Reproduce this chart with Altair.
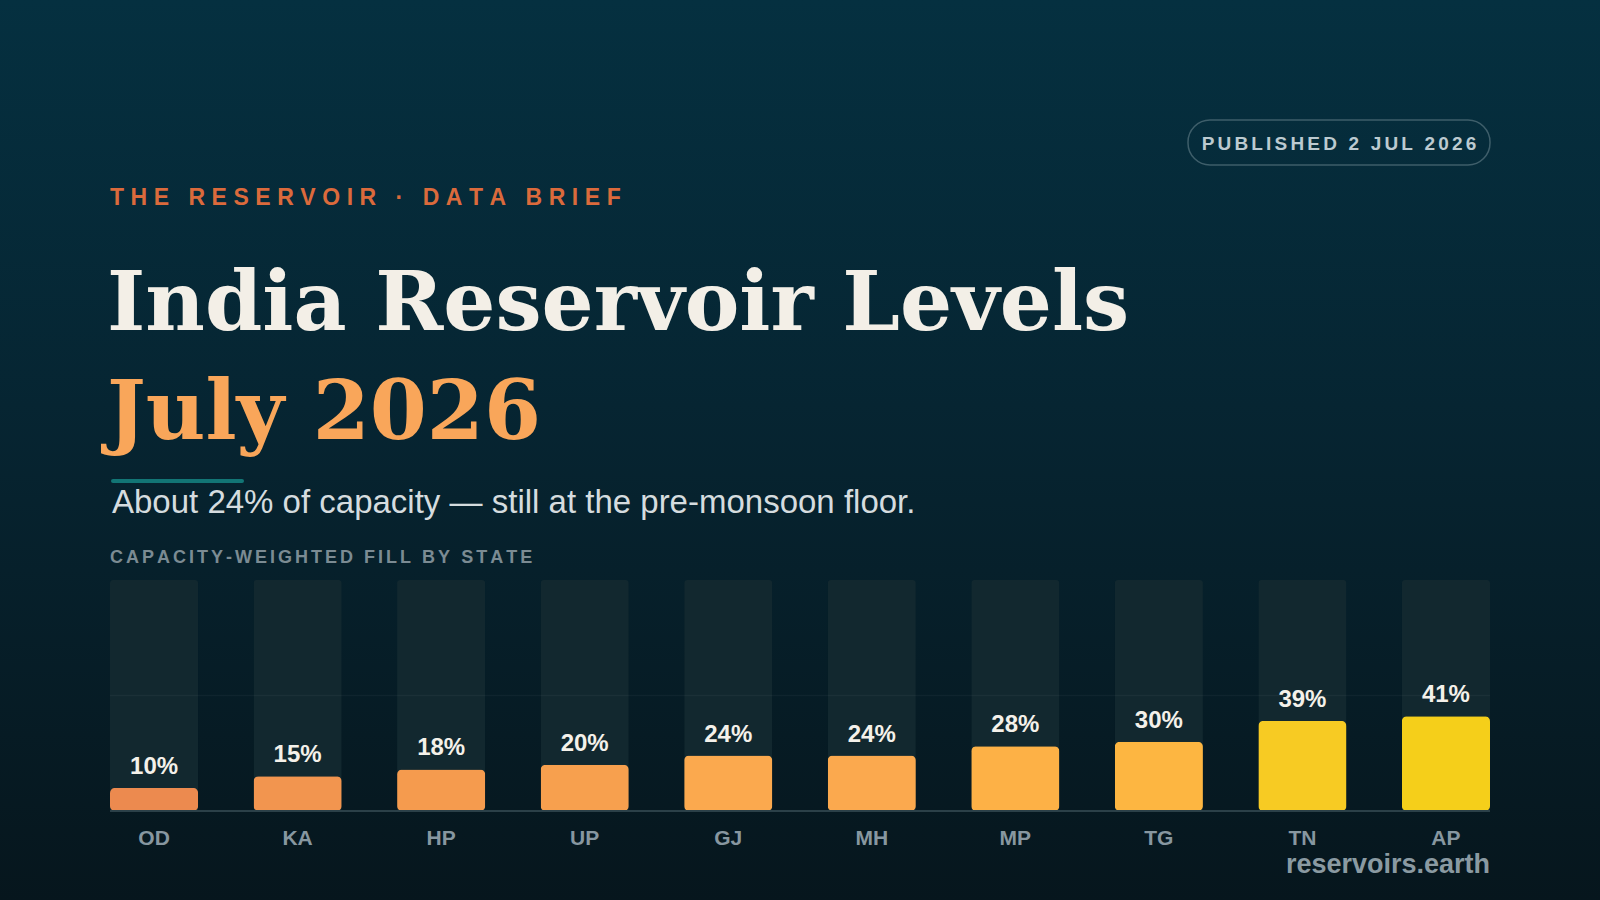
import altair as alt
import pandas as pd

# State reservoir fill, capacity-weighted (% of live storage)
states = ["OD", "KA", "HP", "UP", "GJ", "MH", "MP", "TG", "TN", "AP"]
fill_pct = [10, 15, 18, 20, 24, 24, 28, 30, 39, 41]

W, H = 1600, 900
LEFT, RIGHT = 110, 1490
TOP, BASE = 580, 811

df = pd.DataFrame({"state": states, "pct": fill_pct})

x_enc = alt.X(
    "state:N",
    sort=states,
    axis=None,
    scale=alt.Scale(domain=states, range=[LEFT, RIGHT], paddingInner=0.386, paddingOuter=0),
)
y_scale = alt.Scale(domain=[0, 100], range=[BASE, TOP])

one = alt.Data(values=[{}])


def label(text, x, y, size, color, weight="normal", font="Liberation Sans", align="left", baseline="alphabetic"):
    return alt.Chart(one).mark_text(
        text=text, font=font, fontSize=size, fontWeight=weight, color=color,
        align=align, baseline=baseline,
    ).encode(x=alt.value(x), y=alt.value(y))


def track(s, sep):
    # widen letter spacing with narrow unicode spaces between glyphs
    return sep.join(list(s))


THIN, HAIR = "\u2009", "\u200a"

# page background
bg = alt.Chart(one).mark_rect(
    color=alt.Gradient(
        gradient="linear",
        stops=[
            alt.GradientStop(color="#053040", offset=0),
            alt.GradientStop(color="#062532", offset=0.45),
            alt.GradientStop(color="#06161d", offset=1),
        ],
        x1=0, x2=0, y1=0, y2=1,
    )
).encode(x=alt.value(0), x2=alt.value(W), y=alt.value(0), y2=alt.value(H))

# header
kicker = label(track("THE RESERVOIR · DATA BRIEF", THIN + HAIR), 110, 205, 23, "#db6a3c", weight="bold")
badge_box = alt.Chart(one).mark_rect(
    fillOpacity=0, stroke="#3e5e6a", strokeWidth=1.5, cornerRadius=22
).encode(x=alt.value(1188), x2=alt.value(1490), y=alt.value(120), y2=alt.value(165))
badge_txt = label(track("PUBLISHED 2 JUL 2026", HAIR + HAIR), 1339, 150, 19, "#bccad0", weight="bold", align="center")
title1 = label("India Reservoir Levels", 107, 330, 82, "#f3efe7", weight="bold", font="DejaVu Serif")
title2 = label("July 2026", 107, 439, 82, "#f9a65a", weight="bold", font="DejaVu Serif")
accent = alt.Chart(one).mark_rule(color="#127575", strokeWidth=4, strokeCap="round").encode(
    x=alt.value(113), x2=alt.value(242), y=alt.value(481)
)
subtitle = label("About 24% of capacity \u2014 still at the pre-monsoon floor.", 112, 513, 33, "#d5dcdf")
section = label(track("CAPACITY-WEIGHTED FILL BY STATE", HAIR + HAIR), 110, 563, 18, "#7b8b93", weight="bold")

# chart body
base = alt.Chart(df)
columns = base.transform_calculate(full="100").mark_bar(
    color="#12282f", cornerRadiusTopLeft=3, cornerRadiusTopRight=3
).encode(x=x_enc, y=alt.Y("full:Q", scale=y_scale, axis=None))

grid = alt.Chart(one).mark_rule(color="#ffffff", opacity=0.04, strokeWidth=1.5).encode(
    x=alt.value(LEFT), x2=alt.value(RIGHT), y=alt.value((BASE + TOP) / 2)
)

bars = base.mark_bar(cornerRadius=5).encode(
    x=x_enc,
    y=alt.Y("pct:Q", scale=y_scale, axis=None),
    color=alt.Color(
        "pct:Q",
        scale=alt.Scale(domain=[10, 25, 40], range=["#ec8a4f", "#fcab4e", "#f6cd1f"]),
        legend=None,
    ),
)

baseline = alt.Chart(one).mark_rule(color="#2b4048", strokeWidth=2).encode(
    x=alt.value(LEFT), x2=alt.value(RIGHT), y=alt.value(BASE)
)

values = base.transform_calculate(lbl="datum.pct + '%'").mark_text(
    dy=-14, baseline="alphabetic", fontSize=24, fontWeight="bold", color="#f4f1ea", font="Liberation Sans"
).encode(x=x_enc, y=alt.Y("pct:Q", scale=y_scale, axis=None), text="lbl:N")

state_names = base.mark_text(
    baseline="alphabetic", fontSize=21, fontWeight="bold", color="#8797a0", font="Liberation Sans"
).encode(x=x_enc, y=alt.value(845), text="state:N")

footer = label("reservoirs.earth", RIGHT, 873, 27, "#8a9aa2", weight="bold", align="right")

chart = alt.layer(
    bg, kicker, badge_box, badge_txt, title1, title2, accent, subtitle, section,
    columns, grid, bars, baseline, values, state_names, footer,
).properties(
    width=W, height=H, padding=0, autosize=alt.AutoSizeParams(type="none"), background="#06161d"
).configure_view(stroke=None)

chart.save("out.html", embed_options={"renderer": "svg", "actions": False})
